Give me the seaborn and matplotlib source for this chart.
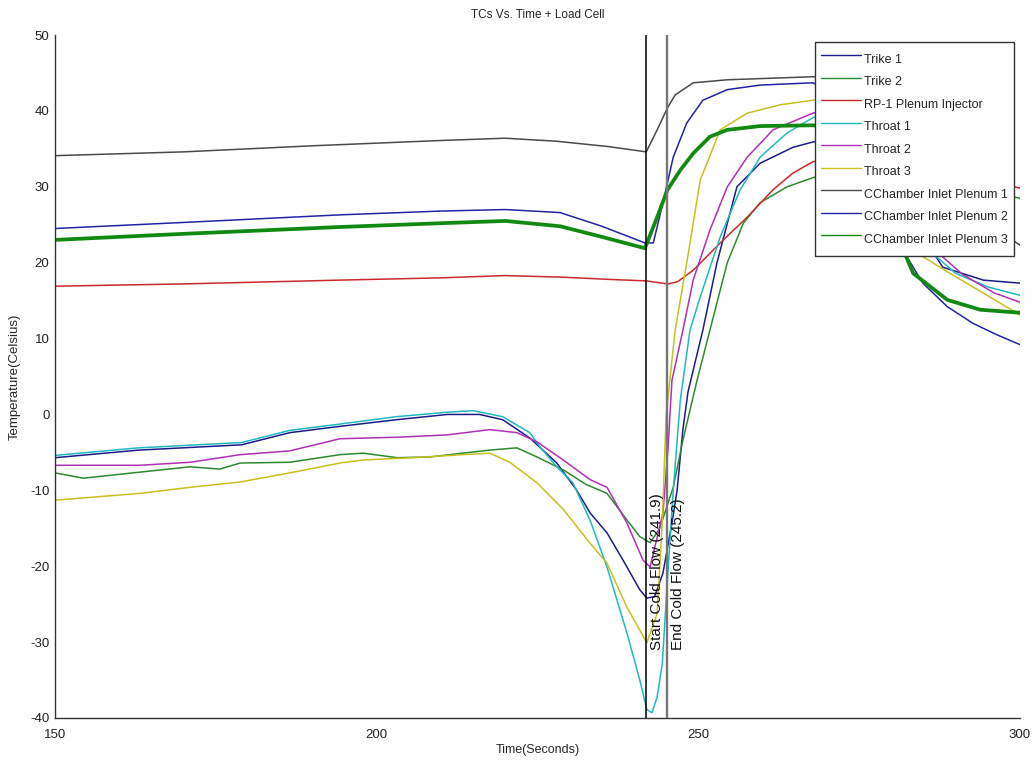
import matplotlib
matplotlib.use("Agg")
import matplotlib.pyplot as plt
import seaborn as sns
import pandas as pd

# ---------------- data ----------------
names = ["Trike 1", "Trike 2", "RP-1 Plenum Injector", "Throat 1", "Throat 2",
         "Throat 3", "CChamber Inlet Plenum 1", "CChamber Inlet Plenum 2",
         "CChamber Inlet Plenum 3"]

trike1_t = [150, 163, 179, 186.5, 194, 203, 211, 216, 219.6, 223.8, 228, 231.1, 233.2,
            235.8, 238.5, 240.9, 242.0, 243.2, 244.5, 245.9, 246.7, 247.6, 248.4, 250.7,
            252.9, 256, 259.6, 264.7, 267.8, 272, 277, 282, 286, 288, 294.3, 300]
trike1_y = [-5.7, -4.7, -4.0, -2.4, -1.6, -0.7, 0.0, 0.0, -0.7, -3.1, -6.4, -10, -13,
            -15.6, -19.5, -23.1, -24.2, -24.0, -20.9, -14.3, -10, -2, 3, 11.1,
            20, 30, 33.1, 35.2, 35.9, 36.5, 35, 28, 22, 19.4, 17.7, 17.3]

trike2_t = [150, 154.4, 163.2, 171, 175.6, 178.8, 186.5, 194.3, 197.9, 203.2, 208.3, 213.4,
            217.6, 221.8, 224.9, 229, 232.5, 235.8, 238.9, 240.9, 242.5, 244, 246.1, 247.6,
            249.8, 251.8, 254.5, 257, 259.6, 263.8, 267.8, 274, 282, 290, 300]
trike2_y = [-7.7, -8.4, -7.6, -6.9, -7.2, -6.4, -6.3, -5.3, -5.1, -5.7, -5.6, -5.1,
            -4.7, -4.4, -5.6, -7.3, -9.2, -10.4, -13.9, -16.1, -16.9, -15, -9.6, -3.4,
            4.5, 11.1, 20, 25.2, 27.9, 30, 31.2, 32.5, 31.5, 30, 28.5]

rp1_t = [150, 170, 194.3, 210, 220, 228.5, 236, 241.9, 245.3, 246.8, 249.2, 253.4,
         257.6, 261.6, 264.7, 267.8, 275, 285, 295, 300]
rp1_y = [16.9, 17.2, 17.7, 18.0, 18.3, 18.1, 17.8, 17.6, 17.2, 17.5, 19.0, 22.6,
         26.0, 29.6, 31.8, 33.3, 34.5, 33.5, 31.0, 29.8]

throat1_t = [150, 163, 179, 186.5, 194, 203, 211, 215, 219.6, 223.8, 225.4, 228, 230.5,
             233.2, 235.8, 238.9, 240.9, 242, 242.8, 243.6, 244.4, 245.2, 246.1, 247.2,
             248.7, 250.3, 253.4, 256.5, 259.6, 263.8, 267.8, 273, 279, 283, 286, 290,
             295, 300]
throat1_y = [-5.4, -4.4, -3.7, -2.1, -1.3, -0.3, 0.3, 0.5, -0.3, -2.4, -4.3, -6.9, -9,
             -14, -20.1, -28.8, -35, -38.9, -39.3, -37.2, -32.8, -21.8, -10, 1.9,
             11.1, 15.5, 23.4, 29.6, 33.9, 37.1, 39.1, 40.5, 36, 27, 21.5, 18.6,
             16.8, 15.7]

throat2_t = [150, 163.2, 171, 178.8, 186.5, 194.3, 203.2, 210.9, 217.6, 221.8, 224.9, 229,
             233.2, 235.8, 238.9, 241.4, 242.5, 244.5, 245.3, 245.9, 247.6, 249.2, 251.8,
             254.5, 257.6, 261.6, 267.8, 273, 279, 283, 287, 291, 296, 300]
throat2_y = [-6.7, -6.7, -6.3, -5.3, -4.8, -3.2, -3.0, -2.7, -2.0, -2.4, -3.6, -6.0,
             -8.6, -9.6, -14.3, -19.2, -20.1, -13, -4.3, 4.5, 11.1, 17.7, 24.3,
             30, 33.9, 37.5, 39.7, 41, 37, 28, 21.5, 18.5, 16, 14.8]

throat3_t = [150, 163.2, 171, 178.8, 186.5, 194.3, 197.9, 205.6, 213.4, 217.6, 220.7, 224.9,
             229, 233.2, 235.8, 238.9, 242, 243.6, 244.4, 245.0, 246.4, 248.2, 250.3,
             253.4, 257.6, 262.7, 267.8, 273, 279, 282, 284.9, 289.1, 294.3, 300]
throat3_y = [-11.3, -10.4, -9.6, -8.9, -7.7, -6.4, -6.0, -5.7, -5.3, -5.1, -6.3, -9.0,
             -12.5, -17, -19.6, -25.4, -30.1, -26.2, -14, 0, 11.1, 20, 30.9,
             37.5, 39.7, 40.8, 41.4, 42, 35, 27, 20.8, 18.6, 16, 13.1]

plen1_t = [150, 170, 190, 210, 220, 228, 236, 241.9, 243.6, 245.2, 246.4, 249.2, 254.5,
           267.8, 272, 278, 285, 292, 300]
plen1_y = [34.1, 34.6, 35.4, 36.1, 36.4, 36.0, 35.3, 34.6, 37.5, 40.4, 42.1, 43.7, 44.1,
           44.5, 44.3, 40, 33.5, 27, 22.3]

plen2_t = [150, 170, 194.3, 210, 220, 228.5, 235, 241.7, 243, 244.5, 246.1, 248.2, 250.7,
           254.5, 259.6, 267.8, 272, 276, 279.5, 282.4, 284.9, 288.7, 292.7, 296.4, 300]
plen2_y = [24.5, 25.3, 26.3, 26.8, 27.0, 26.6, 24.8, 22.6, 22.6, 27.9, 33.9, 38.4, 41.4,
           42.8, 43.4, 43.7, 42, 35, 28, 20.8, 17.3, 14.2, 12, 10.5, 9.2]

plen3_t = [150, 170, 194.3, 210, 220, 228.5, 235, 241.7, 243.6, 245.2, 247.2, 249.2, 251.8,
           254.5, 259.6, 267.8, 272, 276, 279, 282.2, 283.4, 288.7, 293.8, 300]
plen3_y = [23.0, 23.8, 24.7, 25.2, 25.5, 24.8, 23.4, 21.9, 26, 29.6, 32.2, 34.4, 36.6,
           37.5, 38, 38.1, 37.5, 33.5, 28, 21, 18.6, 15.1, 13.8, 13.4]

series_t = [trike1_t, trike2_t, rp1_t, throat1_t, throat2_t, throat3_t, plen1_t, plen2_t, plen3_t]
series_y = [trike1_y, trike2_y, rp1_y, throat1_y, throat2_y, throat3_y, plen1_y, plen2_y, plen3_y]

colors = ["#1c1c8a", "#2e8a2e", "#cc2a2a", "#22b8c0", "#b030b8", "#c8c020",
          "#4a4a4a", "#2323a6", "#128a12"]
widths = [1.1, 1.1, 1.1, 1.1, 1.1, 1.1, 1.1, 1.1, 2.7]

events_x = [241.9, 245.2]
events_label = ["Start Cold Flow (241.9)", "End Cold Flow (245.2)"]
events_color = ["#000000", "#777777"]
events_text_x = [243.6, 246.85]

xticks = [150, 200, 250, 300]
yticks = list(range(-40, 51, 10))

# ---------------- plot ----------------
sns.set_style("white")
plt.rcParams["font.family"] = ["Liberation Sans", "DejaVu Sans"]
plt.rcParams["axes.unicode_minus"] = False

fig = plt.figure(figsize=(10.36, 7.71), dpi=100)
ax = fig.add_axes([55 / 1036, 53 / 771, 965 / 1036, 683 / 771])

for name, t, y, c, w in zip(names, series_t, series_y, colors, widths):
    df = pd.DataFrame({"t": t, "y": y})
    sns.lineplot(data=df, x="t", y="y", color=c, linewidth=w, label=name,
                 ax=ax, estimator=None, sort=False)

for xv, lab, c, tx in zip(events_x, events_label, events_color, events_text_x):
    ax.axvline(xv, color=c, lw=1.1 if c == "#000000" else 1.7, zorder=3)
    ax.text(tx, -31, lab, rotation=90, ha="center", va="bottom", fontsize=11,
            color="#111111")

ax.set_xlim(150, 300)
ax.set_ylim(-40, 50)
ax.set_xticks(xticks)
ax.set_yticks(yticks)
ax.tick_params(direction="in", length=7, width=1, colors="#222222", labelsize=9.5)
ax.tick_params(axis="x", pad=8)
ax.tick_params(axis="y", pad=4)
for s in ["top", "right"]:
    ax.spines[s].set_visible(False)
for s in ["left", "bottom"]:
    ax.spines[s].set_color("#333333")
    ax.spines[s].set_linewidth(1.0)

ax.set_title("TCs Vs. Time + Load Cell", fontsize=8.5, pad=12)
ax.set_xlabel("Time(Seconds)", fontsize=9, labelpad=2)
ax.set_ylabel("Temperature(Celsius)", fontsize=9.5, labelpad=7)

leg = ax.legend(loc="upper right", bbox_to_anchor=(0.994, 0.99), borderaxespad=0,
                fontsize=9, frameon=True, fancybox=False, framealpha=1,
                edgecolor="#333333", handlelength=3.2, handletextpad=0.25,
                handleheight=2.27, labelspacing=0.08, borderpad=0.5)
leg.get_frame().set_linewidth(1.0)
for h in leg.get_lines():
    h.set_linewidth(1.0)

fig.savefig("out.png", dpi=100)
